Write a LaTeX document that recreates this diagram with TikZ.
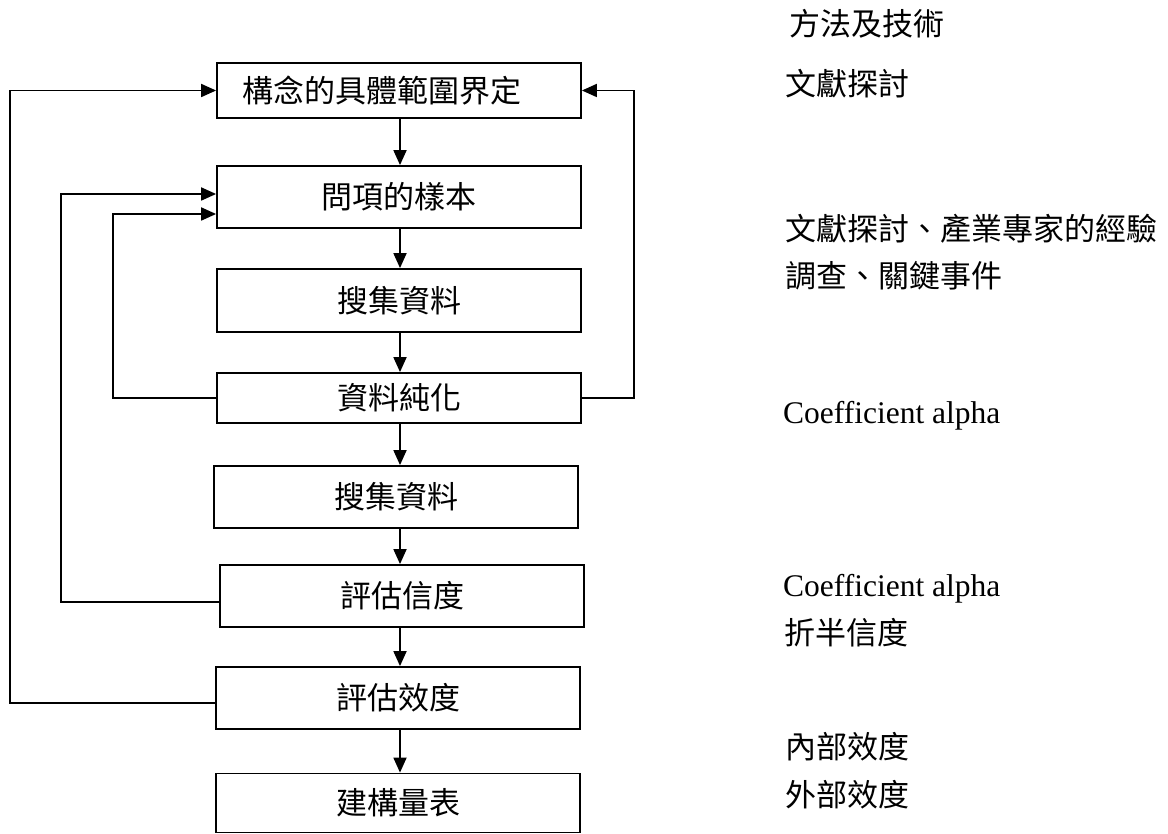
\documentclass[tikz,border=0pt]{standalone}
\usepackage{fontspec}
\setmainfont{Liberation Serif}
\newfontfamily\cjk{Noto Sans CJK TC}
\usetikzlibrary{arrows.meta}
\begin{document}
\begin{tikzpicture}[x=1pt,y=-1pt,
  box/.style={draw, line width=1.8pt, minimum width=364pt, inner sep=0pt,
    font=\cjk\fontsize{31pt}{37pt}\selectfont},
  arr/.style={line width=1.8pt, -{Triangle[length=15pt,width=13pt]}},
  note/.style={anchor=base west, inner sep=0pt, font=\cjk\fontsize{31pt}{37pt}\selectfont},
  latin/.style={anchor=base west, inner sep=0pt, font=\fontsize{31.5pt}{38pt}\selectfont}]
\useasboundingbox (0,0) rectangle (1168,834);

% boxes
\node[box, minimum height=55pt] (b1) at (399,90.5) {構念的具體範圍界定\rule{34pt}{0pt}};
\node[box, minimum height=62pt] (b2) at (399,197) {問項的樣本};
\node[box, minimum height=63pt] (b3) at (399,300.5) {搜集資料};
\node[box, minimum height=50pt] (b4) at (399,398) {資料純化};
\node[box, minimum height=62pt] (b5) at (396,497) {搜集資料};
\node[box, minimum height=62pt] (b6) at (402,596) {評估信度};
\node[box, minimum height=62pt] (b7) at (398,698) {評估效度};
\node[box, minimum height=59pt] (b8) at (398,803) {建構量表};

% main flow
\coordinate (cx) at (400,0);
\draw[arr] (b1.south -| cx) -- (b2.north -| cx);
\draw[arr] (b2.south -| cx) -- (b3.north -| cx);
\draw[arr] (b3.south -| cx) -- (b4.north -| cx);
\draw[arr] (b4.south -| cx) -- (b5.north -| cx);
\draw[arr] (b5.south -| cx) -- (b6.north -| cx);
\draw[arr] (b6.south -| cx) -- (b7.north -| cx);
\draw[arr] (b7.south -| cx) -- (b8.north -| cx);

% feedback loops
\draw[arr] ([yshift=-5pt]b7.west) -- ++(-205,0) |- (b1.west);
\draw[arr] ([yshift=-6pt]b6.west) -- ++(-158,0) |- ([yshift=3pt]b2.west);
\draw[arr] (b4.west) -- ++(-103,0) |- ([yshift=-17pt]b2.west);
\draw[arr] (b4.east) -- ++(52,0) |- (b1.east);

% methods column
\node[note] (m0) at (789,36) {方法及技術};
\node[note] (m1) at (785,96) {文獻探討};
\node[note] (m2) at (785,241) {文獻探討、產業專家的經驗};
\node[note] (m3) at (785,288) {調查、關鍵事件};
\node[latin] (m4) at (783,423) {Coefficient alpha};
\node[latin] (m5) at (783,596) {Coefficient alpha};
\node[note] (m6) at (784,644) {折半信度};
\node[note] (m7) at (785,758) {內部效度};
\node[note] (m8) at (785,806) {外部效度};
\end{tikzpicture}
\end{document}
